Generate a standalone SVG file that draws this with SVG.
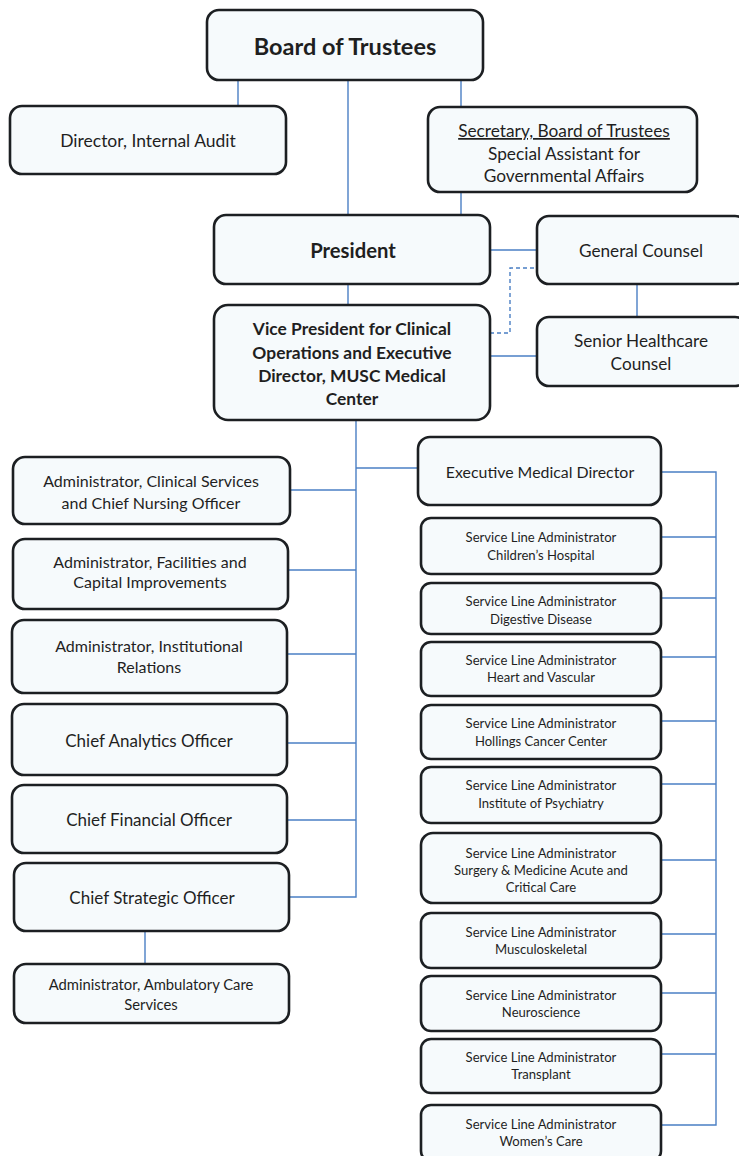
<svg xmlns="http://www.w3.org/2000/svg" width="739" height="1156" viewBox="0 0 739 1156">
<style>
.box{fill:#f6fafc;stroke:#1c1f22;stroke-width:2.6}
.t{font-family:Lato,"Liberation Sans",sans-serif;fill:#1f1f1f;text-anchor:middle}
.b{font-weight:bold}
.s{font-size:13.1px}
.c{stroke:#4a7fc4;stroke-width:1.4;fill:none}
.d{stroke:#4a7fc4;stroke-width:1.4;fill:none;stroke-dasharray:4 3}
</style>
<rect width="739" height="1156" fill="#ffffff"/>
<g id="connectors">
<line class="c" x1="238" y1="80" x2="238" y2="106"/>
<line class="c" x1="348" y1="80" x2="348" y2="215"/>
<line class="c" x1="461" y1="80" x2="461" y2="107"/>
<line class="c" x1="461" y1="192" x2="461" y2="215"/>
<line class="c" x1="490" y1="250" x2="537" y2="250"/>
<polyline class="d" points="490,333 510,333 510,268 537,268"/>
<line class="c" x1="637" y1="284" x2="637" y2="317"/>
<line class="c" x1="490" y1="356" x2="537" y2="356"/>
<line class="c" x1="348" y1="284" x2="348" y2="305"/>
<polyline class="c" points="356,420 356,897 289,897"/>
<line class="c" x1="356" y1="468" x2="418" y2="468"/>
<line class="c" x1="290" y1="490" x2="356" y2="490"/>
<line class="c" x1="288" y1="570" x2="356" y2="570"/>
<line class="c" x1="287" y1="654" x2="356" y2="654"/>
<line class="c" x1="287" y1="743" x2="356" y2="743"/>
<line class="c" x1="287" y1="820" x2="356" y2="820"/>
<line class="c" x1="145" y1="931" x2="145" y2="964"/>
<polyline class="c" points="661,472 716,472 716,1125 661,1125"/>
<line class="c" x1="661" y1="537" x2="716" y2="537"/>
<line class="c" x1="661" y1="598" x2="716" y2="598"/>
<line class="c" x1="661" y1="657" x2="716" y2="657"/>
<line class="c" x1="661" y1="721" x2="716" y2="721"/>
<line class="c" x1="661" y1="784" x2="716" y2="784"/>
<line class="c" x1="661" y1="860" x2="716" y2="860"/>
<line class="c" x1="661" y1="934" x2="716" y2="934"/>
<line class="c" x1="661" y1="993" x2="716" y2="993"/>
<line class="c" x1="661" y1="1054" x2="716" y2="1054"/>
</g>
<g id="board"><rect class="box" x="207" y="10" width="276" height="70" rx="12"/><text class="t b" x="345" y="55" font-size="23.5">Board of Trustees</text></g>
<g id="audit"><rect class="box" x="10" y="106" width="276" height="68" rx="12"/><text class="t" x="148" y="147" font-size="17.5">Director, Internal Audit</text></g>
<g id="secretary"><rect class="box" x="428" y="107" width="269" height="85" rx="12"/>
<text class="t" x="564" y="137" font-size="17.3" text-decoration="underline">Secretary, Board of Trustees</text>
<text class="t" x="564" y="160" font-size="17.3">Special Assistant for</text>
<text class="t" x="564" y="182" font-size="17.3">Governmental Affairs</text></g>
<g id="president"><rect class="box" x="214" y="215" width="276" height="69" rx="12"/><text class="t b" x="353" y="258" font-size="20.3">President</text></g>
<g id="general-counsel"><rect class="box" x="537" y="216" width="210" height="68" rx="12"/><text class="t" x="641" y="257" font-size="17.2">General Counsel</text></g>
<g id="senior-counsel"><rect class="box" x="537" y="317" width="210" height="69" rx="12"/>
<text class="t" x="641" y="347" font-size="17.2">Senior Healthcare</text>
<text class="t" x="641" y="370" font-size="17.2">Counsel</text></g>
<g id="vp"><rect class="box" x="214" y="305" width="276" height="115" rx="14"/>
<text class="t b" x="352" y="335" font-size="17.4">Vice President for Clinical</text>
<text class="t b" x="352" y="359" font-size="17.4">Operations and Executive</text>
<text class="t b" x="352" y="382" font-size="17.4">Director, MUSC Medical</text>
<text class="t b" x="352" y="405" font-size="17.4">Center</text></g>
<g id="clinical-services"><rect class="box" x="13" y="457" width="277" height="67" rx="12"/>
<text class="t" x="151" y="487" font-size="16">Administrator, Clinical Services</text>
<text class="t" x="151" y="509" font-size="16">and Chief Nursing Officer</text></g>
<g id="facilities"><rect class="box" x="13" y="539" width="275" height="70" rx="12"/>
<text class="t" x="150" y="568" font-size="16">Administrator, Facilities and</text>
<text class="t" x="150" y="588" font-size="16">Capital Improvements</text></g>
<g id="institutional"><rect class="box" x="12" y="620" width="275" height="73" rx="12"/>
<text class="t" x="149" y="652" font-size="16">Administrator, Institutional</text>
<text class="t" x="149" y="673" font-size="16">Relations</text></g>
<g id="analytics"><rect class="box" x="12" y="704" width="275" height="71" rx="12"/><text class="t" x="149" y="747" font-size="17">Chief Analytics Officer</text></g>
<g id="financial"><rect class="box" x="12" y="785" width="275" height="68" rx="12"/><text class="t" x="149" y="826" font-size="17">Chief Financial Officer</text></g>
<g id="strategic"><rect class="box" x="14" y="863" width="275" height="68" rx="12"/><text class="t" x="152" y="904" font-size="17">Chief Strategic Officer</text></g>
<g id="ambulatory"><rect class="box" x="14" y="964" width="275" height="59" rx="12"/>
<text class="t" x="151" y="990" font-size="14.8">Administrator, Ambulatory Care</text>
<text class="t" x="151" y="1010" font-size="14.8">Services</text></g>
<g id="emd"><rect class="box" x="418" y="437" width="243" height="68" rx="12"/><text class="t" x="540" y="478" font-size="15.9">Executive Medical Director</text></g>
<g id="sl-children"><rect class="box" x="421" y="518" width="240" height="56" rx="10"/>
<text class="t s" x="541" y="542">Service Line Administrator</text>
<text class="t s" x="541" y="560">Children’s Hospital</text></g>
<g id="sl-digestive"><rect class="box" x="421" y="583" width="240" height="51" rx="10"/>
<text class="t s" x="541" y="606">Service Line Administrator</text>
<text class="t s" x="541" y="624">Digestive Disease</text></g>
<g id="sl-heart"><rect class="box" x="421" y="642" width="240" height="54" rx="10"/>
<text class="t s" x="541" y="665">Service Line Administrator</text>
<text class="t s" x="541" y="682">Heart and Vascular</text></g>
<g id="sl-hollings"><rect class="box" x="421" y="705" width="240" height="54" rx="10"/>
<text class="t s" x="541" y="728">Service Line Administrator</text>
<text class="t s" x="541" y="746">Hollings Cancer Center</text></g>
<g id="sl-psychiatry"><rect class="box" x="421" y="767" width="240" height="56" rx="10"/>
<text class="t s" x="541" y="790">Service Line Administrator</text>
<text class="t s" x="541" y="808">Institute of Psychiatry</text></g>
<g id="sl-surgery"><rect class="box" x="421" y="833" width="240" height="70" rx="12"/>
<text class="t s" x="541" y="858">Service Line Administrator</text>
<text class="t s" x="541" y="875">Surgery &amp; Medicine Acute and</text>
<text class="t s" x="541" y="892">Critical Care</text></g>
<g id="sl-musculoskeletal"><rect class="box" x="421" y="913" width="240" height="55" rx="10"/>
<text class="t s" x="541" y="937">Service Line Administrator</text>
<text class="t s" x="541" y="954">Musculoskeletal</text></g>
<g id="sl-neuroscience"><rect class="box" x="421" y="976" width="240" height="55" rx="10"/>
<text class="t s" x="541" y="1000">Service Line Administrator</text>
<text class="t s" x="541" y="1017">Neuroscience</text></g>
<g id="sl-transplant"><rect class="box" x="421" y="1039" width="240" height="54" rx="10"/>
<text class="t s" x="541" y="1062">Service Line Administrator</text>
<text class="t s" x="541" y="1079">Transplant</text></g>
<g id="sl-womens"><rect class="box" x="421" y="1105" width="240" height="56" rx="10"/>
<text class="t s" x="541" y="1129">Service Line Administrator</text>
<text class="t s" x="541" y="1146">Women’s Care</text></g>
</svg>
